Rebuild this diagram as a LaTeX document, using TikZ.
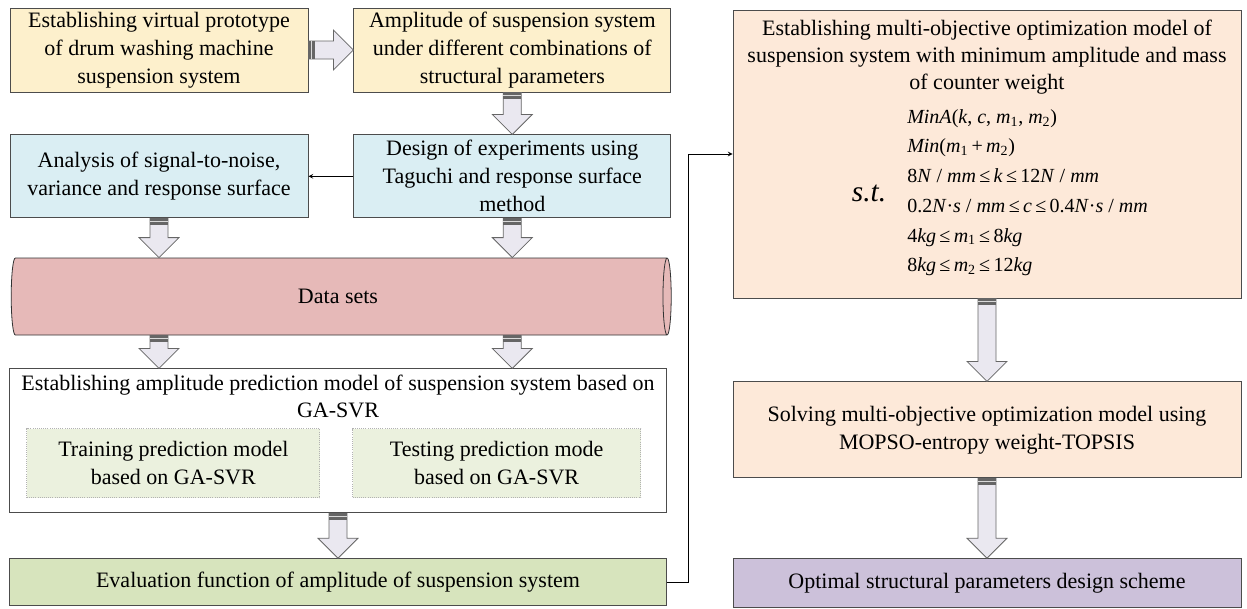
\documentclass[tikz,border=0pt]{standalone}
\usepackage{fontspec}
\setmainfont{Liberation Serif}
\usepackage{xcolor}
\usepackage{tikz}
\usetikzlibrary{shapes.geometric, arrows, positioning, calc}
\definecolor{stageyellow}{RGB}{253, 240, 204}
\definecolor{stageblue}{RGB}{218, 238, 243}
\definecolor{datared}{RGB}{230, 185, 184}
\definecolor{evalgreen}{RGB}{215, 228, 189}
\definecolor{subgreen}{RGB}{235, 241, 222}
\definecolor{modelpeach}{RGB}{253, 233, 217}
\definecolor{optpurple}{RGB}{204, 193, 218}
\definecolor{arrowfill}{RGB}{234, 232, 240}

% block arrows with the dark band at their start
\newcommand{\blkdown}[2]{%
  \draw[blkarrow] let \p1=(#1), \p2=(#2) in
    (\x1-6.75pt,\y1) -- (\x1-6.75pt,\y2+15pt) -- (\x1-15pt,\y2+15pt) -- (\x1,\y2)
    -- (\x1+15pt,\y2+15pt) -- (\x1+6.75pt,\y2+15pt) -- (\x1+6.75pt,\y1) -- cycle;
  \fill[bandfill] let \p1=(#1) in (\x1-6.75pt,\y1) rectangle (\x1+6.75pt,\y1-5.25pt);
  \draw[bandline] let \p1=(#1) in (\x1-6.75pt,\y1-2.6pt) -- (\x1+6.75pt,\y1-2.6pt);
}
\newcommand{\blkright}[2]{%
  \draw[blkarrow] let \p1=(#1), \p2=(#2) in
    (\x1,\y1+6.75pt) -- (\x2-15pt,\y1+6.75pt) -- (\x2-15pt,\y1+15pt) -- (\x2,\y1)
    -- (\x2-15pt,\y1-15pt) -- (\x2-15pt,\y1-6.75pt) -- (\x1,\y1-6.75pt) -- cycle;
  \fill[bandfill] let \p1=(#1) in (\x1,\y1-6.75pt) rectangle (\x1+5.25pt,\y1+6.75pt);
  \draw[bandline] let \p1=(#1) in (\x1+2.6pt,\y1-6.75pt) -- (\x1+2.6pt,\y1+6.75pt);
}
\newcommand{\mv}[1]{\textit{#1}}

\begin{document}
\begin{tikzpicture}[
    x=0.75pt, y=0.75pt,
    node distance=31.5pt,
    stagebox/.style={rectangle, draw=black!70, line width=0.6pt, align=center, inner sep=2pt, font=\fontsize{16.5}{21}\selectfont, text=black},
    subbox/.style={rectangle, draw=black!30, densely dotted, line width=0.6pt, fill=subgreen, align=center, font=\fontsize{16.5}{21}\selectfont},
    dataset/.style={cylinder, shape border rotate=0, aspect=0.35, draw=black!80, line width=0.6pt, fill=datared, minimum width=57.75pt, minimum height=495pt, font=\fontsize{16.5}{21}\selectfont},
    blkarrow/.style={draw=black!60, line width=0.6pt, fill=arrowfill},
    bandfill/.style={fill=black!60},
    bandline/.style={draw=white!85!black, line width=0.7pt},
    thinarrow/.style={draw=black, line width=0.6pt, ->, >=stealth}
]
\useasboundingbox (0,0) rectangle (1247,-608);

% left column
\node[stagebox, fill=stageyellow, minimum width=223.5pt, minimum height=63pt] (proto) at (159,-50) {Establishing virtual prototype\\of drum washing machine\\suspension system};
\node[stagebox, fill=stageyellow, minimum width=237.75pt, minimum height=63pt, right=33.75pt of proto] (ampl) {Amplitude of suspension system\\under different combinations of\\structural parameters};
\node[stagebox, fill=stageblue, minimum width=237.75pt, minimum height=62.25pt, below=31.5pt of ampl] (design) {Design of experiments using\\Taguchi and response surface\\method};
\node[stagebox, fill=stageblue, minimum width=223.5pt, minimum height=62.25pt, left=33.75pt of design] (analysis) {Analysis of signal-to-noise,\\variance and response surface};
\node[dataset] (data) at (338,-296.5) {Data sets};
\node[stagebox, fill=white, minimum width=492.75pt, minimum height=108pt, below=24.75pt of data] (predict) {};
\node[anchor=north, align=center, inner sep=5pt, font=\fontsize{16.5}{20.25}\selectfont] (predicttitle) at (predict.north) {Establishing amplitude prediction model of suspension system based on\\GA-SVR};
\node[subbox, minimum width=219.75pt, minimum height=51.75pt, above right=11.25pt and 13pt of predict.south west] (train) {Training prediction model\\based on GA-SVR};
\node[subbox, minimum width=216pt, minimum height=51.75pt, right=24pt of train] (test) {Testing prediction mode\\based on GA-SVR};
\node[stagebox, fill=evalgreen, minimum width=492.75pt, minimum height=35.25pt, below=33.75pt of predict] (eval) {Evaluation function of amplitude of suspension system};

% right column
\node[stagebox, fill=modelpeach, minimum width=381pt, minimum height=216pt] (model) at (987,-154) {};
\node[anchor=north, align=center, inner sep=7.5pt, font=\fontsize{16.5}{20.25}\selectfont] (modeltitle) at (model.north) {Establishing multi-objective optimization model of\\suspension system with minimum amplitude and mass\\of counter weight};
\node[font=\fontsize{22}{26}\selectfont\itshape] (st) at (869,-193) {s.t.};
\node[anchor=north west, align=left, inner sep=0pt, font=\fontsize{15}{22.3}\selectfont] (constr) at (907,-109) {%
\mv{MinA}(\mv{k}, \mv{c}, \mv{m}\textsubscript{1}, \mv{m}\textsubscript{2})\\
\mv{Min}(\mv{m}\textsubscript{1}\,+\,\mv{m}\textsubscript{2})\\
8\mv{N} / \mv{mm}\,≤\,\mv{k}\,≤\,12\mv{N} / \mv{mm}\\
0.2\mv{N}·\mv{s} / \mv{mm}\,≤\,\mv{c}\,≤\,0.4\mv{N}·\mv{s} / \mv{mm}\\
4\mv{kg}\,≤\,\mv{m}\textsubscript{1}\,≤\,8\mv{kg}\\
8\mv{kg}\,≤\,\mv{m}\textsubscript{2}\,≤\,12\mv{kg}};
\node[stagebox, fill=modelpeach, minimum width=381pt, minimum height=72pt, below=62.25pt of model] (solve) {Solving multi-objective optimization model using\\MOPSO-entropy weight-TOPSIS};
\node[stagebox, fill=optpurple, minimum width=381pt, minimum height=36.75pt, below=60pt of solve] (optimal) {Optimal structural parameters design scheme};

% block arrows
\blkright{proto.east}{ampl.west}
\blkdown{ampl.south}{design.north}
\blkdown{analysis.south}{data.north}
\blkdown{design.south}{data.north}
\blkdown{analysis.south |- data.south}{predict.north}
\blkdown{design.south |- data.south}{predict.north}
\blkdown{predict.south}{eval.north}
\blkdown{model.south}{solve.north}
\blkdown{solve.south}{optimal.north}

% thin connectors
\draw[thinarrow] (design.west) -- (analysis.east);
\draw[thinarrow] (eval.east) -- ++(15.75pt,0) |- (model.west);
\end{tikzpicture}
\end{document}
